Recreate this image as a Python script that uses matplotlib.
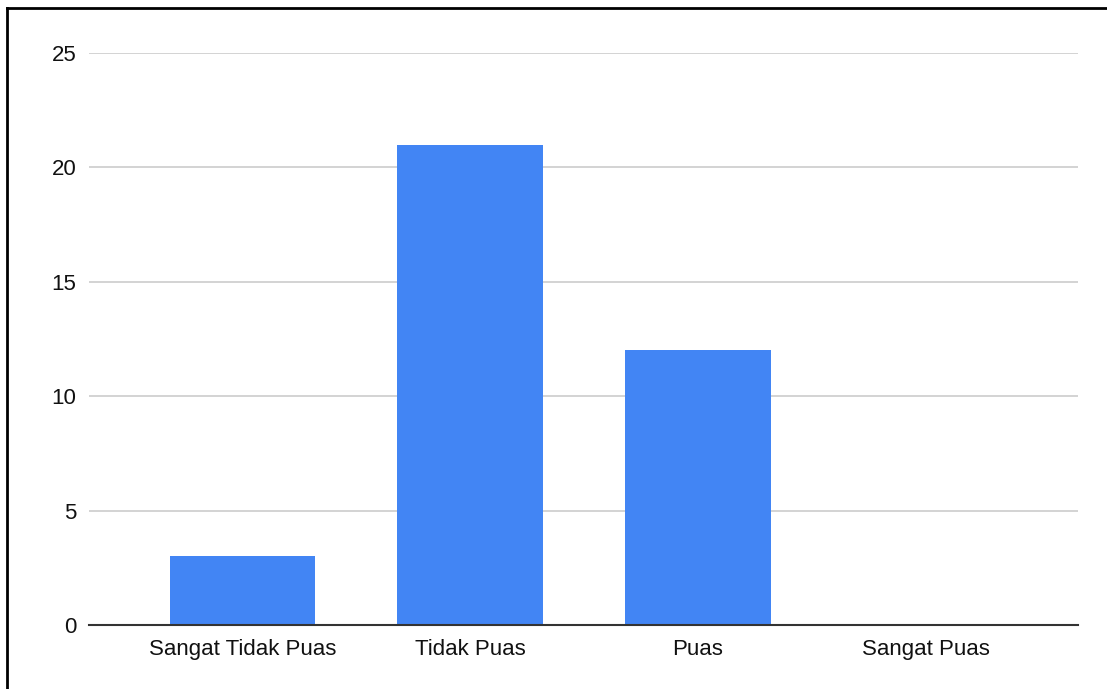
import matplotlib
matplotlib.use("Agg")
import matplotlib.pyplot as plt
from matplotlib.lines import Line2D

categories = ["Sangat Tidak Puas", "Tidak Puas", "Puas", "Sangat Puas"]
values = [3, 21, 12, 0]
yticks = [0, 5, 10, 15, 20, 25]

plt.rcParams["font.family"] = ["Liberation Sans", "DejaVu Sans"]

W, H = 1107, 689
fig = plt.figure(figsize=(W / 100, H / 100), dpi=100)
ax = fig.add_axes([89 / W, 1 - 625 / H, (1078 - 89) / W, (625 - 53) / H])

x = range(len(categories))
ax.bar(x, values, width=0.64, color="#4285F4", zorder=3)

ax.set_xlim(-0.675, len(categories) - 1 + 0.67)
ax.set_ylim(0, 25)
ax.set_yticks(yticks)
ax.set_xticks(list(x))
ax.set_xticklabels(categories)
ax.yaxis.grid(True, color="#cccccc", linewidth=1.2, zorder=0)
ax.set_axisbelow(True)
for side in ("top", "right", "left"):
    ax.spines[side].set_visible(False)
ax.spines["bottom"].set_color("#333333")
ax.spines["bottom"].set_linewidth(1.5)
ax.spines["bottom"].set_zorder(4)
ax.tick_params(axis="both", length=0, labelsize=16, colors="#111111")
ax.tick_params(axis="y", pad=9)
ax.tick_params(axis="x", pad=10)

# outer frame along the top and left edges
fig.add_artist(Line2D([6.5 / W, 6.5 / W], [0, 1 - 8 / H], transform=fig.transFigure,
                      color="black", linewidth=2))
fig.add_artist(Line2D([6.5 / W, 1], [1 - 8 / H, 1 - 8 / H], transform=fig.transFigure,
                      color="black", linewidth=2))

fig.savefig("out.png", dpi=100)
